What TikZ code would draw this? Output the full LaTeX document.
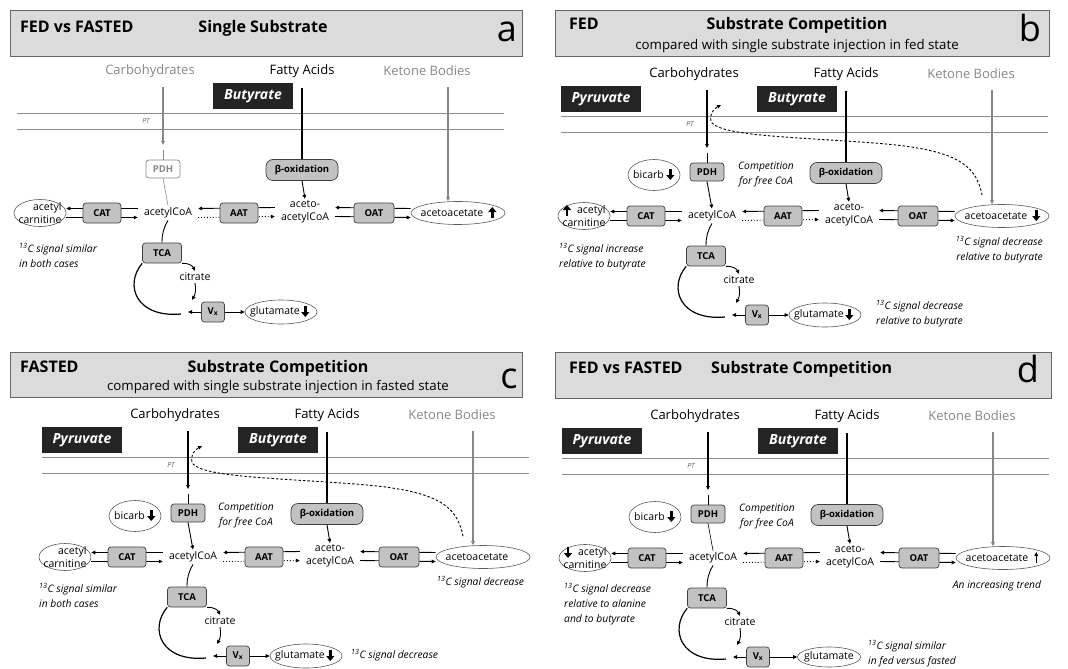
\documentclass[tikz,border=0pt]{standalone}
\usepackage{fontspec}
\setmainfont{Open Sans}
\usetikzlibrary{arrows.meta,shapes.geometric}

\definecolor{hdrgrey}{gray}{0.86}
\definecolor{enzgrey}{gray}{0.76}
\definecolor{softgrey}{gray}{0.53}
\definecolor{substbg}{gray}{0.14}

\tikzset{
  hdr/.style={draw=black!60, fill=hdrgrey, line width=0.8pt, anchor=north west, inner sep=0pt},
  htitle/.style={font=\fontsize{16}{18}\selectfont\bfseries, inner sep=0pt},
  hsub/.style={font=\fontsize{13.3}{15}\selectfont, inner sep=0pt},
  hletter/.style={font=\fontsize{36}{38}\selectfont, inner sep=0pt},
  src/.style={font=\fontsize{13}{15}\selectfont},
  subst/.style={fill=substbg, text=white, font=\fontsize{14}{16}\selectfont\bfseries\itshape,
    minimum width=80pt, minimum height=26pt, inner sep=0pt},
  memb/.style={black!45, line width=0.6pt},
  ptlab/.style={font=\fontsize{7}{8}\selectfont\itshape, text=black!60},
  enz/.style={draw=black!75, fill=enzgrey, rounded corners=3pt, line width=0.7pt,
    font=\fontsize{9.5}{11}\selectfont\bfseries, minimum width=38pt, minimum height=20pt, inner sep=1pt},
  met/.style={font=\fontsize{10.5}{12.5}\selectfont, align=center, inner xsep=6pt, inner ysep=2pt},
  pool/.style={ellipse, draw=black!65, line width=0.6pt, font=\fontsize{10.5}{12.5}\selectfont,
    inner sep=-6pt, align=center},
  note/.style={font=\fontsize{10.3}{15}\selectfont\itshape, align=left, inner sep=0pt},
  flux/.style={-{Triangle[length=4pt,width=3.6pt]}, line width=0.9pt},
  trunk/.style={line width=1.3pt},
  trend/.style={line width=2.6pt, -{Triangle[length=5pt,width=8pt]}},
  recirc/.style={dash pattern=on 2.5pt off 2pt, line width=0.9pt, -{Triangle[length=4pt,width=3.6pt]}},
}

% one pathway panel, drawn in the frame of panel a
% #1 colour of the carbohydrate branch, #2 PDH box, #3 PDH link, #4 glutamate pool
\newcommand{\pathway}[4]{%
  \node[src, text=#1] (carbo) at (150,71) {Carbohydrates};
  \node[src] (fatty) at (302,71) {Fatty Acids};
  \node[src, text=softgrey] (keto) at (427,71) {Ketone Bodies};
  \node[subst] (buty) at (253,96) {Butyrate};
  \draw[memb] (17,113) -- (504,113);
  \draw[memb] (17,129) -- (504,129);
  \node[ptlab] (pt) at (146,121) {PT};
  \coordinate (cin) at (163,87);
  \coordinate (cout) at (163,145);
  \coordinate (cpdh) at (163,150);
  \coordinate (fin) at (302,88);
  \coordinate (kin) at (448,87);
  \node[enz, minimum width=34pt, minimum height=18pt, #2] (pdh) at (163,169) {PDH};
  \node[enz, minimum width=72pt, minimum height=21pt, rounded corners=7pt] (box) at (302,170) {β-oxidation};
  \node[met] (acoa) at (168,213) {acetylCoA};
  \node[met] (acacoa) at (305,212) {aceto-\\acetylCoA};
  \node[pool, minimum width=52pt, minimum height=27pt, align=right] (carn) at (40,213) {acetyl\\carnitine};
  \node[pool, minimum width=94pt, minimum height=23pt] (acac) at (458,213) {acetoacetate\hspace{12pt}};
  \draw[flux, #1, line width=1.1pt] (cin) -- (cout);
  \draw[#1, line width=0.9pt] (cpdh) -- (pdh.north);
  \draw[#3] (pdh.south) -- (acoa.north);
  \draw[trunk] (fin) -- (box.north);
  \draw[flux] (box.south) -- (acacoa.north);
  \draw[flux, softgrey, line width=1.1pt] (kin) -- (kin |- acac.north);
  \draw[flux] ([yshift=4.5pt]acoa.west) -- ([yshift=4.5pt]carn.east);
  \draw[flux] ([yshift=-4.5pt]carn.east) -- ([yshift=-4.5pt]acoa.west);
  \draw[flux] ([yshift=4.5pt]acacoa.west) -- ([yshift=4.5pt]acoa.east);
  \draw[flux, dotted] ([yshift=-4.5pt]acoa.east) -- ([yshift=-4.5pt]acacoa.west);
  \draw[flux] ([yshift=4.5pt]acac.west) -- ([yshift=4.5pt]acacoa.east);
  \draw[flux] ([yshift=-4.5pt]acacoa.east) -- ([yshift=-4.5pt]acac.west);
  \node[enz] (cat) at (102,213) {CAT};
  \node[enz] (aat) at (239,213) {AAT};
  \node[enz, minimum width=40pt] (oat) at (374,213) {OAT};
  % TCA cycle
  \node[enz, minimum width=39pt] (tca) at (162,253) {TCA};
  \node[met, inner sep=2pt] (cit) at (195,277) {citrate};
  \node[enz, minimum width=23pt, minimum height=20pt] (vx) at (213,312) {V\textsubscript{x}};
  #4
  \coordinate (vxin) at (192,300);
  \coordinate (vxl) at (188,312);
  \coordinate (loop) at (181,314);
  \draw[line width=0.9pt] (acoa.south) to[bend right=15] (tca.north);
  \draw[flux] (tca.south east) to[bend left=35] (cit.north);
  \draw[flux] (cit.south) to[bend left=20] (vxin);
  \draw[flux] (vx.west) -- (vxl);
  \draw[flux] (vx.east) -- (glu.west);
  \draw[line width=1.2pt] (tca.south west) .. controls (124,285) and (136,318) .. (loop);
}

\newcommand{\glupool}{\node[pool, minimum width=72pt, minimum height=24pt] (glu) at (281,312) {glutamate\hspace{12pt}};}

\begin{document}
\begin{tikzpicture}[x=1pt,y=-1pt]
\useasboundingbox (0,0) rectangle (1068,669);

% headers
\node[hdr, minimum width=512pt, minimum height=46pt] (hda) at (10,10) {};
\node[htitle, anchor=base west] (hda-st) at (20,33) {FED vs FASTED};
\node[htitle, anchor=base] (hda-ti) at (263,33) {Single Substrate};
\node[hletter] (hda-id) at (507,32) {a};

\node[hdr, minimum width=494pt, minimum height=46pt] (hdb) at (555,10) {};
\node[htitle, anchor=base west] (hdb-st) at (569,30) {FED};
\node[htitle, anchor=base] (hdb-ti) at (797,30) {Substrate Competition};
\node[hsub, anchor=base] (hdb-sub) at (797,49) {compared with single substrate injection in fed state};
\node[hletter] (hdb-id) at (1030,28) {b};

\node[hdr, minimum width=512pt, minimum height=45pt] (hdc) at (10,352) {};
\node[htitle, anchor=base west] (hdc-st) at (20,372) {FASTED};
\node[htitle, anchor=base] (hdc-ti) at (278,372) {Substrate Competition};
\node[hsub, anchor=base] (hdc-sub) at (278,390) {compared with single substrate injection in fasted state};
\node[hletter] (hdc-id) at (509,379) {c};

\node[hdr, minimum width=496pt, minimum height=46pt] (hdd) at (555,352) {};
\node[htitle, anchor=base west] (hdd-st) at (569,373) {FED vs FASTED};
\node[htitle, anchor=base west] (hdd-ti) at (711,373) {Substrate Competition};
\node[hletter] (hdd-id) at (1028,369) {d};

% panel a
\begin{scope}[name prefix=a-]
\pathway{softgrey}{fill=white, draw=softgrey, text=softgrey}{softgrey, line width=0.6pt}{\glupool}
\draw[trend] ([xshift=-13pt,yshift=-5pt]acac.east) -- ([xshift=-13pt,yshift=6pt]acac.east);
\draw[trend] ([xshift=-12pt,yshift=6pt]glu.east) -- ([xshift=-12pt,yshift=-5pt]glu.east);
\node[note, anchor=north west] (cnote) at (19,243) {\textsuperscript{13}C signal similar\\in both cases};
\end{scope}

% panel b
\begin{scope}[shift={(544,3)}, name prefix=b-]
\pathway{black}{}{flux}{\glupool}
\node[subst] (pyru) at (57,96) {Pyruvate};
\node[pool, minimum width=52pt, minimum height=31pt] (bic) at (110,172) {bicarb\hspace{11pt}};
\node[note, align=center] (comp) at (222,171) {Competition\\for free CoA};
\draw[trend] ([xshift=-10pt,yshift=6pt]bic.east) -- ([xshift=-10pt,yshift=-5pt]bic.east);
\draw[trend] ([xshift=-17pt,yshift=0pt]carn.center) -- ([xshift=-17pt,yshift=11pt]carn.center);
\draw[trend] ([xshift=-13pt,yshift=6pt]acac.east) -- ([xshift=-13pt,yshift=-5pt]acac.east);
\draw[trend] ([xshift=-12pt,yshift=6pt]glu.east) -- ([xshift=-12pt,yshift=-5pt]glu.east);
\coordinate (back) at (177,102);
\draw[recirc] ([xshift=-20pt,yshift=9pt]acac.north) .. controls (432,160) and (410,146) .. (330,140)
  .. controls (250,134) and (180,133) .. (168,120) .. controls (164,113) and (169,106) .. (back);
\node[note, anchor=north west] (cnote) at (15,240) {\textsuperscript{13}C signal increase\\relative to butyrate};
\node[note, anchor=north east, align=right] (knote) at (499,233) {\textsuperscript{13}C signal decrease\\relative to butyrate};
\node[note, anchor=north west] (gnote) at (332,297) {\textsuperscript{13}C signal decrease\\relative to butyrate};
\end{scope}

% panel c
\begin{scope}[shift={(25,344)}, name prefix=c-]
\pathway{black}{}{flux}{\glupool}
\node[subst] (pyru) at (57,96) {Pyruvate};
\node[pool, minimum width=52pt, minimum height=31pt] (bic) at (110,172) {bicarb\hspace{11pt}};
\node[note, align=center] (comp) at (221,171) {Competition\\for free CoA};
\draw[trend] ([xshift=-10pt,yshift=6pt]bic.east) -- ([xshift=-10pt,yshift=-5pt]bic.east);
\draw[trend] ([xshift=-12pt,yshift=6pt]glu.east) -- ([xshift=-12pt,yshift=-5pt]glu.east);
\coordinate (back) at (177,102);
\draw[recirc] ([xshift=-20pt,yshift=9pt]acac.north) .. controls (432,160) and (410,146) .. (330,140)
  .. controls (250,134) and (180,133) .. (168,120) .. controls (164,113) and (169,106) .. (back);
\node[note, anchor=north west] (cnote) at (14,239) {\textsuperscript{13}C signal similar\\in both cases};
\node[note, anchor=west] (knote) at (412,238) {\textsuperscript{13}C signal decrease};
\node[note, anchor=west] (gnote) at (326,311) {\textsuperscript{13}C signal decrease};
\end{scope}

% panel d
\begin{scope}[shift={(545,345)}, name prefix=d-]
\pathway{black}{}{line width=0.6pt}{\node[pool, minimum width=63pt, minimum height=20pt] (glu) at (284,312) {glutamate};}
\node[subst] (pyru) at (57,96) {Pyruvate};
\node[pool, minimum width=52pt, minimum height=31pt] (bic) at (110,172) {bicarb\hspace{11pt}};
\node[note, align=center] (comp) at (222,171) {Competition\\for free CoA};
\draw[trend] ([xshift=-10pt,yshift=6pt]bic.east) -- ([xshift=-10pt,yshift=-5pt]bic.east);
\draw[trend] ([xshift=-17pt,yshift=11pt]carn.center) -- ([xshift=-17pt,yshift=0pt]carn.center);
\draw[flux, line width=1.3pt] ([xshift=-14pt,yshift=-5pt]acac.east) -- ([xshift=-14pt,yshift=6pt]acac.east);
\node[note, anchor=north west] (cnote) at (19,238) {\textsuperscript{13}C signal decrease\\relative to alanine\\and to butyrate};
\node[note] (knote) at (452,241) {An increasing trend};
\node[note, anchor=north west] (gnote) at (323,295) {\textsuperscript{13}C signal similar\\in fed versus fasted};
\end{scope}
\end{tikzpicture}
\end{document}
